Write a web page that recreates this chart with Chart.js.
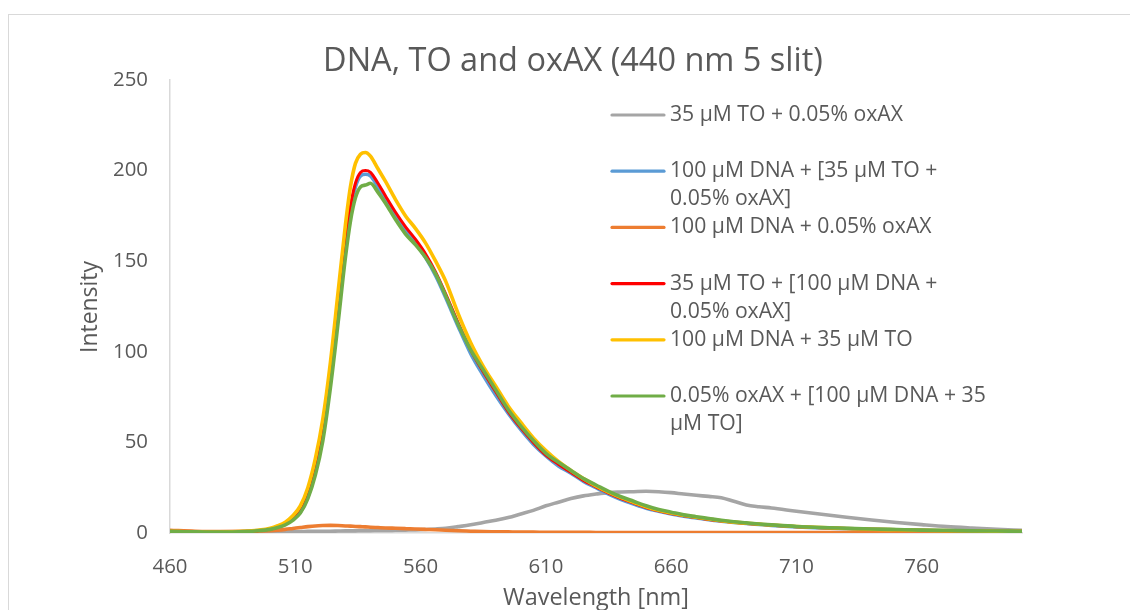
<!DOCTYPE html>
<html>
<head>
<meta charset="utf-8">
<script src="https://cdn.jsdelivr.net/npm/chart.js@4.4.1/dist/chart.umd.min.js"></script>
<style>
  html, body { margin: 0; padding: 0; background: #ffffff; }
  #wrap { position: relative; width: 1130px; height: 610px; }
</style>
</head>
<body>
<div id="wrap"><canvas id="c" width="1130" height="610"></canvas></div>
<script>
// ---------- data ----------
const chartTitle = 'DNA, TO and oxAX (440 nm 5 slit)';
const xAxisTitle = 'Wavelength [nm]';
const yAxisTitle = 'Intensity';
const xTickLabels = [460, 510, 560, 610, 660, 710, 760];
const yTickLabels = [0, 50, 100, 150, 200, 250];

const wavelengths = [460,470,480,490,495,500,503,506,509,512,515,518,521,524,527,530,532,534,536,538,540,543,546,550,554,558,562,566,570,
  575,580,585,590,595,600,605,610,615,620,625,630,635,640,645,650,655,660,665,670,675,680,685,690,695,700,
  710,720,730,740,750,760,770,780,790,800];

const seriesLabels = [
  ['35 µM TO + 0.05% oxAX'],
  ['100 µM DNA + [35 µM TO +', '0.05% oxAX]'],
  ['100 µM DNA + 0.05% oxAX'],
  ['35 µM TO + [100 µM DNA +', '0.05% oxAX]'],
  ['100 µM DNA + 35 µM TO'],
  ['0.05% oxAX + [100 µM DNA + 35', 'µM TO]']
];

const toOxAX = [0.9,0.6,0.5,0.5,0.5,0.6,0.6,0.7,0.8,0.8,0.9,0.9,1.0,1.0,1.1,1.2,1.2,1.2,1.3,1.3,1.3,1.4,1.4,1.5,1.6,1.7,1.9,2.2,2.6,
  3.5,4.5,5.8,7,8.5,10.5,12.5,15,17,19,20.5,21.5,22.3,22.6,22.8,23,22.8,22.3,21.5,20.8,20.2,19.5,17.5,15.5,14.5,13.8,
  12,10.3,8.7,7.2,5.8,4.6,3.5,2.7,2.0,1.5];
const dnaPlusToOx = [1.0,0.6,0.5,0.8,1.3,2.1,3.2,4.8,7.7,11.5,20,34,54,84,120,157,178,191,197,198,197,191,184,175,167,160,152,142,130,
  114,99,87,76,66,57,49,42.5,37,33,28.5,25,21.5,18.5,16,13.7,12,10.5,9.3,8.3,7.3,6.5,5.8,5.2,4.7,4.2,
  3.4,2.8,2.4,2.0,1.7,1.5,1.3,1.1,1.0,0.9];
const dnaOxAX = [1.5,1.0,0.8,0.9,1.0,1.3,1.6,2.0,2.5,3.0,3.5,3.9,4.1,4.2,4.1,3.9,3.8,3.6,3.5,3.4,3.2,3.0,2.8,2.6,2.4,2.2,2.0,1.8,1.5,
  1.2,1.0,0.8,0.7,0.6,0.5,0.5,0.4,0.4,0.4,0.4,0.3,0.3,0.3,0.3,0.3,0.3,0.3,0.3,0.3,0.3,0.3,0.3,0.3,0.3,0.3,
  0.3,0.3,0.3,0.3,0.3,0.3,0.3,0.3,0.3,0.3];
const toPlusDnaOx = [1.0,0.6,0.5,0.8,1.3,2.2,3.3,5,8,12,21,35,55,85,121,159,180,193,199,200,199,193,186,177,169,162,154,144,132,
  116,101,89,78,67,58,50,43,38,33.5,29,25.5,22,19,16.5,14,12.2,10.7,9.5,8.5,7.5,6.6,5.9,5.3,4.8,4.3,
  3.5,2.9,2.5,2.1,1.8,1.5,1.3,1.1,1.0,0.9];
const dnaTO = [1.0,0.6,0.5,0.9,1.5,2.6,4,6,9.5,15,25,41,63,94,132,170,191,204,209,210,208,201,194,184,175,168,160,150,139,
  121,105,92,81,70,61,52.5,45.5,39.5,34.5,30,26,22.5,19.5,17,14.5,12.5,11,9.8,8.7,7.7,6.8,6,5.4,4.9,4.4,
  3.6,3,2.5,2.1,1.8,1.5,1.3,1.1,1.0,0.9];
const oxPlusDnaTo = [1.0,0.6,0.5,0.8,1.2,2.0,3.0,4.5,7,11,19,32,51,80,115,152,172,185,191,192,193,188,182,173,165,159,152,143,131,
  115,101,90,79,68,59,51,44,39,34.5,30,26.5,23,20,17.5,15,13,11.5,10,9,8,7,6.2,5.6,5,4.5,
  3.6,3,2.6,2.2,1.9,1.6,1.4,1.2,1.1,1.0];

const seriesValues = [toOxAX, dnaPlusToOx, dnaOxAX, toPlusDnaOx, dnaTO, oxPlusDnaTo];
const seriesColors = ['#A5A5A5', '#5B9BD5', '#ED7D31', '#FF0000', '#FFC000', '#70AD47'];

// ---------- styling ----------
const FONT = '"Open Sans", "DejaVu Sans", sans-serif';
const TEXT = '#595959';
const AXIS = '#D9D9D9';

const mctx = document.createElement('canvas').getContext('2d');
function fitSize(text, target) {
  mctx.font = '100px ' + FONT;
  return 100 * target / mctx.measureText(text).width;
}
const tickSize = fitSize('460', 35);
const titleSize = fitSize(chartTitle, 500);
const legendSize = fitSize('35 µM TO + 0.05% oxAX', 233);
const xTitleSize = fitSize(xAxisTitle, 186);
const yTitleSize = fitSize(yAxisTitle, 92);

const decor = {
  id: 'decor',
  beforeDraw(chart) {
    const ctx = chart.ctx;
    ctx.save();
    ctx.strokeStyle = AXIS;
    ctx.lineWidth = 1;
    ctx.strokeRect(8.5, 14.5, 1200, 700);
    ctx.restore();
  },
  afterDraw(chart) {
    const ctx = chart.ctx;
    ctx.save();
    ctx.fillStyle = TEXT;
    ctx.textAlign = 'center';
    ctx.textBaseline = 'middle';
    ctx.font = titleSize + 'px ' + FONT;
    ctx.fillText(chartTitle, 573, 62);
    ctx.font = xTitleSize + 'px ' + FONT;
    ctx.fillText(xAxisTitle, 596, 598);
    ctx.save();
    ctx.translate(90, 307);
    ctx.rotate(-Math.PI / 2);
    ctx.font = yTitleSize + 'px ' + FONT;
    ctx.fillText(yAxisTitle, 0, 0);
    ctx.restore();
    // legend
    ctx.textAlign = 'left';
    ctx.font = legendSize + 'px ' + FONT;
    seriesLabels.forEach((lines, i) => {
      const y0 = 115 + i * 56.2;
      ctx.strokeStyle = seriesColors[i];
      ctx.lineWidth = 3.2;
      ctx.lineCap = 'round';
      ctx.beginPath();
      ctx.moveTo(612, y0);
      ctx.lineTo(664, y0);
      ctx.stroke();
      lines.forEach((t, k) => ctx.fillText(t, 670, y0 + k * 28.1));
    });
    ctx.restore();
  }
};

const drawOrder = [5, 4, 3, 2, 1, 0];
const datasets = seriesValues.map((vals, i) => ({
  label: seriesLabels[i].join(' '),
  data: wavelengths.map((w, k) => ({ x: w, y: vals[k] })),
  borderColor: seriesColors[i],
  backgroundColor: seriesColors[i],
  borderWidth: i === 3 ? 3 : 3.6,
  pointRadius: 0,
  tension: 0.35,
  cubicInterpolationMode: 'monotone',
  order: drawOrder[i],
  fill: false
}));

new Chart(document.getElementById('c'), {
  type: 'line',
  data: { datasets },
  plugins: [decor],
  options: {
    responsive: false,
    animation: false,
    events: [],
    layout: { padding: { left: 0, top: 80, right: 108, bottom: 0 } },
    plugins: { legend: { display: false }, title: { display: false }, tooltip: { enabled: false } },
    scales: {
      x: {
        type: 'linear',
        min: 460,
        max: 800,
        afterBuildTicks: (s) => { s.ticks = xTickLabels.map(v => ({ value: v })); },
        afterFit: (s) => { s.height = 77; },
        grid: { display: false, drawTicks: false },
        border: { display: true, color: AXIS, width: 1.5 },
        ticks: { color: TEXT, font: { family: FONT, size: tickSize }, padding: 22, maxRotation: 0, autoSkip: false }
      },
      y: {
        min: 0,
        max: 250,
        afterBuildTicks: (s) => { s.ticks = yTickLabels.map(v => ({ value: v })); },
        afterFit: (s) => { s.width = 170; },
        grid: { display: false, drawTicks: false },
        border: { display: true, color: AXIS, width: 1.5 },
        ticks: { color: TEXT, font: { family: FONT, size: tickSize }, padding: 22 }
      }
    }
  }
});
</script>
</body>
</html>
